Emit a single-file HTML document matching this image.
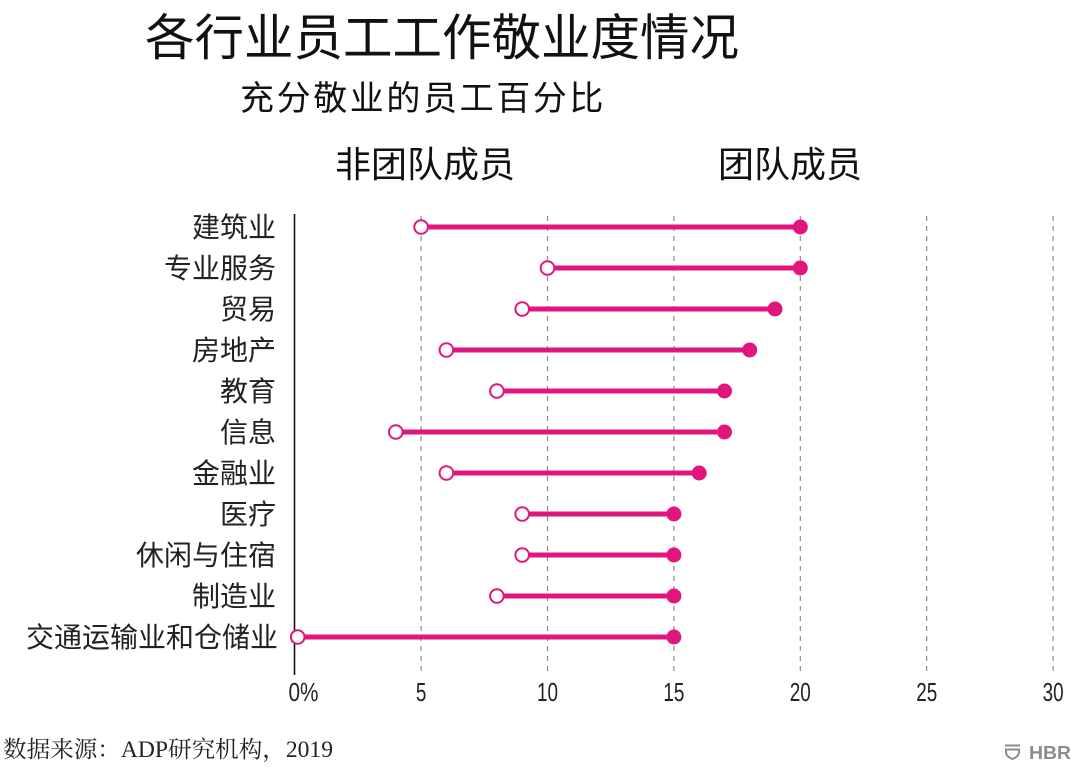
<!DOCTYPE html>
<html><head><meta charset="utf-8"><style>
html,body{margin:0;padding:0;background:#fff;}
svg{display:block;}
</style></head><body>
<svg width="1080" height="771" viewBox="0 0 1080 771" xmlns="http://www.w3.org/2000/svg">
<rect width="1080" height="771" fill="#fff"/>
<g font-family="'Liberation Sans','Noto Sans CJK SC',sans-serif" fill="#111">
<text x="145" y="55" font-size="49.5">各行业员工工作敬业度情况</text>
<text x="240" y="110" font-size="34" letter-spacing="2.6">充分敬业的员工百分比</text>
<text x="335" y="177" font-size="36">非团队成员</text>
<text x="718" y="177" font-size="36">团队成员</text>
</g>
<!-- gridlines -->
<g stroke="#8a8a8a" stroke-width="1.2" stroke-dasharray="5,5">
<line x1="421.1" y1="216" x2="421.1" y2="676"/>
<line x1="547.5" y1="216" x2="547.5" y2="676"/>
<line x1="673.9" y1="216" x2="673.9" y2="676"/>
<line x1="800.3" y1="216" x2="800.3" y2="676"/>
<line x1="926.7" y1="216" x2="926.7" y2="676"/>
<line x1="1053.1" y1="216" x2="1053.1" y2="676"/>
</g>
<line x1="294.5" y1="214" x2="294.5" y2="675" stroke="#111" stroke-width="1.6"/>
<!-- labels -->
<g font-family="'Liberation Sans','Noto Sans CJK SC',sans-serif" font-size="28" fill="#222" text-anchor="end">
<text x="276" y="237">建筑业</text>
<text x="276" y="278">专业服务</text>
<text x="276" y="319">贸易</text>
<text x="276" y="360">房地产</text>
<text x="276" y="401">教育</text>
<text x="276" y="442">信息</text>
<text x="276" y="483">金融业</text>
<text x="276" y="524">医疗</text>
<text x="276" y="565">休闲与住宿</text>
<text x="276" y="606">制造业</text>
<text x="278" y="647">交通运输业和仓储业</text>
</g>
<!-- series -->
<g stroke="#e0167e" stroke-width="5">
<line x1="421.1" y1="227" x2="800.3" y2="227"/>
<line x1="547.5" y1="268" x2="800.3" y2="268"/>
<line x1="522.2" y1="309" x2="775" y2="309"/>
<line x1="446.4" y1="350" x2="749.7" y2="350"/>
<line x1="496.9" y1="391" x2="724.5" y2="391"/>
<line x1="395.8" y1="432" x2="724.5" y2="432"/>
<line x1="446.4" y1="473" x2="699.2" y2="473"/>
<line x1="522.2" y1="514" x2="673.9" y2="514"/>
<line x1="522.2" y1="555" x2="673.9" y2="555"/>
<line x1="496.9" y1="596" x2="673.9" y2="596"/>
<line x1="297.7" y1="637" x2="673.9" y2="637"/>
</g>
<g fill="#fff" stroke="#e0167e" stroke-width="2">
<circle cx="421.1" cy="227" r="6.8"/>
<circle cx="547.5" cy="268" r="6.8"/>
<circle cx="522.2" cy="309" r="6.8"/>
<circle cx="446.4" cy="350" r="6.8"/>
<circle cx="496.9" cy="391" r="6.8"/>
<circle cx="395.8" cy="432" r="6.8"/>
<circle cx="446.4" cy="473" r="6.8"/>
<circle cx="522.2" cy="514" r="6.8"/>
<circle cx="522.2" cy="555" r="6.8"/>
<circle cx="496.9" cy="596" r="6.8"/>
<circle cx="297.7" cy="637" r="6.8"/>
</g>
<g fill="#e0167e">
<circle cx="800.3" cy="227" r="7.5"/>
<circle cx="800.3" cy="268" r="7.5"/>
<circle cx="775" cy="309" r="7.5"/>
<circle cx="749.7" cy="350" r="7.5"/>
<circle cx="724.5" cy="391" r="7.5"/>
<circle cx="724.5" cy="432" r="7.5"/>
<circle cx="699.2" cy="473" r="7.5"/>
<circle cx="673.9" cy="514" r="7.5"/>
<circle cx="673.9" cy="555" r="7.5"/>
<circle cx="673.9" cy="596" r="7.5"/>
<circle cx="673.9" cy="637" r="7.5"/>
</g>
<!-- tick labels -->
<g font-family="'Liberation Sans',sans-serif" font-size="26" fill="#222" text-anchor="middle">
<text x="303.5" y="701" textLength="30" lengthAdjust="spacingAndGlyphs">0%</text>
<text x="421.1" y="701" textLength="10.5" lengthAdjust="spacingAndGlyphs">5</text>
<text x="547.5" y="701" textLength="21" lengthAdjust="spacingAndGlyphs">10</text>
<text x="673.9" y="701" textLength="21" lengthAdjust="spacingAndGlyphs">15</text>
<text x="800.3" y="701" textLength="21" lengthAdjust="spacingAndGlyphs">20</text>
<text x="926.7" y="701" textLength="21" lengthAdjust="spacingAndGlyphs">25</text>
<text x="1053.1" y="701" textLength="21" lengthAdjust="spacingAndGlyphs">30</text>
</g>
<!-- footnote -->
<text x="3" y="757" font-family="'Liberation Serif','Noto Serif CJK SC',serif" font-size="23" fill="#222" textLength="330" lengthAdjust="spacingAndGlyphs">数据来源：ADP研究机构，2019</text>
<!-- HBR logo -->
<g fill="none" stroke="#8c8c8c" stroke-width="2">
<line x1="1005" y1="745.5" x2="1020" y2="745.5"/>
<path d="M1006,749.5 L1019,749.5 L1019,752 Q1019,756.5 1012.5,759 Q1006,756.5 1006,752 Z"/>
</g>
<text x="1029" y="759" font-family="'Liberation Sans',sans-serif" font-weight="bold" font-size="18" fill="#8c8c8c" textLength="42" lengthAdjust="spacingAndGlyphs">HBR</text>
</svg>
</body></html>
